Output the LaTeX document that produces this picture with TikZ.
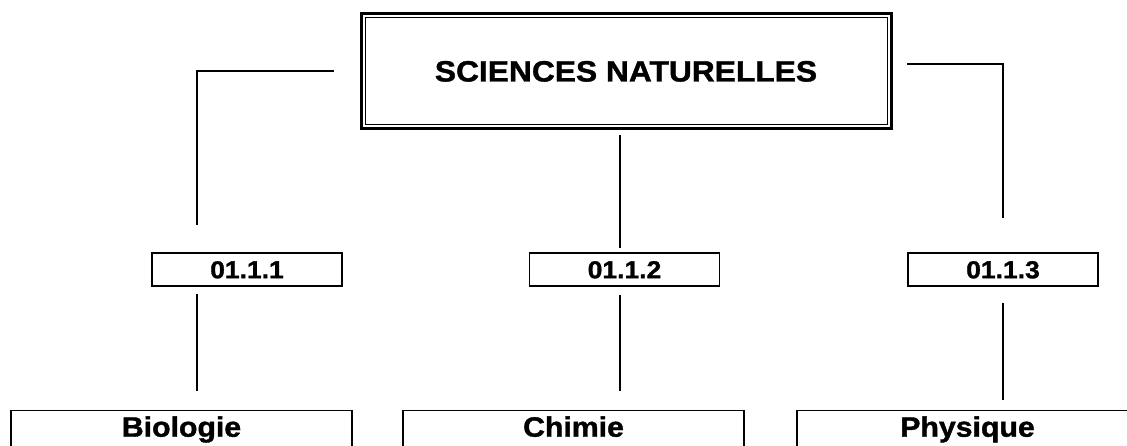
\documentclass[tikz,border=0pt]{standalone}
\usepackage{fontspec}
\setmainfont[FakeStretch=1.08, BoldFeatures={FakeBold=1.3}]{Liberation Sans}
\begin{document}
\begin{tikzpicture}[x=1pt, y=-1pt,
    link/.style={line width=1.4pt},
    codebox/.style={draw, line width=1.4pt, minimum width=190pt, minimum height=33pt, inner sep=0pt,
        font=\fontsize{24.5}{24.5}\selectfont\bfseries, text height=17.5pt, text depth=0pt},
    fieldbox/.style={draw, line width=1.4pt, minimum width=341pt, anchor=north, inner xsep=0pt, inner ysep=6pt,
        font=\fontsize{28}{28}\selectfont\bfseries, text height=20pt, text depth=40pt}]

                \clip (0,0) rectangle (1127,446);
                \fill[white] (0,0) rectangle (1127,446);

                \coordinate (colA) at (197,0);
                \coordinate (colB) at (620,0);
                \coordinate (colC) at (1003,0);

                \node[draw, line width=1pt, minimum width=522pt, minimum height=107pt, inner sep=0pt,
                      font=\fontsize{29.4}{29.4}\selectfont\bfseries, text height=21pt, text depth=0pt]
                      (main) at (626,71) {SCIENCES NATURELLES};
                \draw[line width=3pt] ([shift={(-3.5pt,3.5pt)}]main.north west) rectangle ([shift={(3.5pt,-3.5pt)}]main.south east);

                \node[codebox] (c1) at (247,269.5) {01.1.1};
                \node[codebox] (c2) at (624.5,269.5) {01.1.2};
                \node[codebox] (c3) at (1003,269.5) {01.1.3};

                \node[fieldbox] (bio) at (181.5,410) {Biologie};
                \node[fieldbox] (chim) at (573.5,410) {Chimie};
                \node[fieldbox] (phys) at (967.5,410) {Physique};

                \draw[link, shorten <=31pt, shorten >=27pt] (main.west) -| (c1.north -| colA);
                \draw[link, shorten <=10pt, shorten >=4pt] (main.south -| colB) -- (c2.north -| colB);
                \draw[link, shorten <=19.5pt, shorten >=34pt] ([yshift=7pt]main.east) -| (c3.north -| colC);

                \draw[link, shorten <=7pt, shorten >=19pt] (c1.south -| colA) -- (bio.north -| colA);
                \draw[link, shorten <=8pt, shorten >=19pt] (c2.south -| colB) -- (chim.north -| colB);
                \draw[link, shorten <=16pt, shorten >=10pt] (c3.south -| colC) -- (phys.north -| colC);

            \end{tikzpicture}
\end{document}
